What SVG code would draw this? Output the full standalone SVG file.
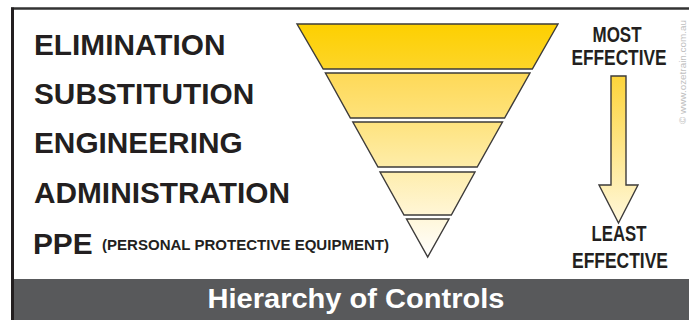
<svg xmlns="http://www.w3.org/2000/svg" width="689" height="320" viewBox="0 0 689 320">
<style>
.lbl{font-family:"Liberation Sans",Arial,sans-serif;font-weight:bold;fill:#231f20}
.big{font-size:29.8px}
.side{font-size:21.5px;text-anchor:middle}
.band{stroke:#3d3b3a;stroke-width:1.4;stroke-linejoin:miter}
</style>
<defs>
<linearGradient id="g" gradientUnits="userSpaceOnUse" x1="0" y1="24" x2="0" y2="257">
<stop offset="0" stop-color="#fdd000"/>
<stop offset="0.2" stop-color="#fdd52a"/>
<stop offset="0.21" stop-color="#fed957"/>
<stop offset="0.4" stop-color="#fee27a"/>
<stop offset="0.6" stop-color="#feeca6"/>
<stop offset="0.8" stop-color="#fff5d2"/>
<stop offset="1" stop-color="#ffffff"/>
</linearGradient>
<linearGradient id="ag" x1="0" y1="0" x2="0" y2="1">
<stop offset="0" stop-color="#fdd43a"/>
<stop offset="1" stop-color="#fff8dc"/>
</linearGradient>
</defs>
<rect x="0" y="0" width="689" height="320" fill="#ffffff"/>
<g id="frame">
<rect x="14" y="279" width="675" height="41" fill="#58595b"/>
<line x1="11" y1="8.5" x2="689" y2="8.5" stroke="#333" stroke-width="2.5"/>
<line x1="12.5" y1="7.5" x2="12.5" y2="320" stroke="#231f20" stroke-width="3"/>
<text x="356" y="307.5" font-family="'Liberation Sans',Arial,sans-serif" font-weight="bold" font-size="28" fill="#ffffff" text-anchor="middle" textLength="297" lengthAdjust="spacingAndGlyphs">Hierarchy of Controls</text>
<text transform="translate(686,72) rotate(-90)" font-family="'Liberation Sans',Arial,sans-serif" font-size="9.5" fill="#c0c0c0" text-anchor="middle" textLength="104" lengthAdjust="spacingAndGlyphs">© www.ozetrain.com.au</text>
</g>
<g id="pyramid">
<polygon id="elimination-band" class="band" fill="url(#g)" points="297,24 558,24 532.3,69 323.2,69"/>
<polygon id="substitution-band" class="band" fill="url(#g)" points="325.4,73 530,73 504.6,118 350.4,118"/>
<polygon id="engineering-band" class="band" fill="url(#g)" points="352.8,122 502.5,122 477.2,167 378,167"/>
<polygon id="administration-band" class="band" fill="url(#g)" points="380,172 475,172 451.3,215 404,215"/>
<polygon id="ppe-band" class="band" fill="url(#g)" points="406.5,219 449,219 427.7,257"/>
</g>
<g id="labels">
<text class="lbl big" x="34" y="54.5">ELIMINATION</text>
<text class="lbl big" x="34" y="103.5">SUBSTITUTION</text>
<text class="lbl big" x="34" y="152.5">ENGINEERING</text>
<text class="lbl big" x="34" y="202.5">ADMINISTRATION</text>
<text class="lbl big" x="33" y="253.5">PPE</text>
<text class="lbl" x="102" y="250" font-size="15" textLength="287" lengthAdjust="spacingAndGlyphs">(PERSONAL PROTECTIVE EQUIPMENT)</text>
</g>
<g id="effectiveness">
<text class="lbl side" x="617" y="41.5" textLength="49" lengthAdjust="spacingAndGlyphs">MOST</text>
<text class="lbl side" x="619" y="65" textLength="95" lengthAdjust="spacingAndGlyphs">EFFECTIVE</text>
<polygon id="arrow" fill="url(#ag)" stroke="#3d3b3a" stroke-width="1.4" points="611,76 626,76 626,185 638,185 618.5,223 599,185 611,185"/>
<text class="lbl side" x="619" y="240.5" textLength="55" lengthAdjust="spacingAndGlyphs">LEAST</text>
<text class="lbl side" x="620" y="267.5" textLength="96" lengthAdjust="spacingAndGlyphs">EFFECTIVE</text>
</g>
</svg>
